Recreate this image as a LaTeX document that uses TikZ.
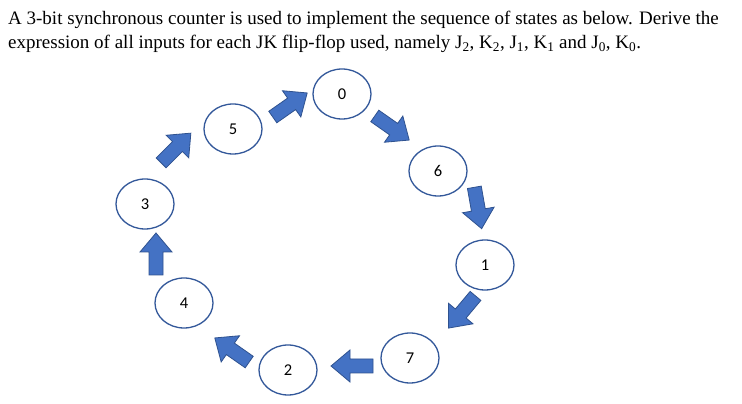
\documentclass[tikz,border=0pt]{standalone}
\usepackage{fontspec}
\setmainfont{Liberation Serif}
\newfontfamily\numfont{Carlito}
\begin{document}
\begin{tikzpicture}[x=1pt,y=1pt,
  st/.style={line width=1.3pt,fill=white,ellipse,minimum width=58pt,minimum height=50pt,font=\numfont\fontsize{16.5}{18}\selectfont},
  barrow/.pic={\draw[fill=arrfill,draw=arrline,line width=0.8pt] (-21,-7)--(2,-7)--(2,-16)--(21,0)--(2,16)--(2,7)--(-21,7)--cycle;}]
\usetikzlibrary{shapes.geometric}
\definecolor{arrfill}{HTML}{4472C4}
\definecolor{arrline}{HTML}{2F528F}
\tikzset{st/.append style={draw=arrline!80!arrfill}}
\useasboundingbox (0,0) rectangle (742,404);
\node[anchor=west,inner sep=0pt,font=\fontsize{19}{22}\selectfont] (l1) at (8,384) {A 3-bit synchronous counter is used to implement the sequence of states as below. Derive the};
\node[anchor=west,inner sep=0pt,font=\fontsize{19}{22}\selectfont] (l2) at (8,360) {expression of all inputs for each JK flip-flop used, namely J\textsubscript{2}, K\textsubscript{2}, J\textsubscript{1}, K\textsubscript{1} and J\textsubscript{0}, K\textsubscript{0}.};
\node[st] (s0) at (342,310) {0};
\node[st] (s6) at (438,233) {6};
\node[st] (s1) at (485,139) {1};
\node[st] (s7) at (410,46) {7};
\node[st] (s2) at (288,34) {2};
\node[st] (s4) at (184,101) {4};
\node[st] (s3) at (145,200) {3};
\node[st] (s5) at (233,275) {5};
\pic[rotate=35] at (290,299) {barrow};
\pic[rotate=-35] at (392,276) {barrow};
\pic[rotate=-80] at (478,196) {barrow};
\pic[rotate=-130] at (462,92) {barrow};
\pic[rotate=180] at (352,38) {barrow};
\pic[rotate=145] at (232,54) {barrow};
\pic[rotate=90] at (156,150) {barrow};
\pic[rotate=45] at (176,256) {barrow};
\end{tikzpicture}
\end{document}
